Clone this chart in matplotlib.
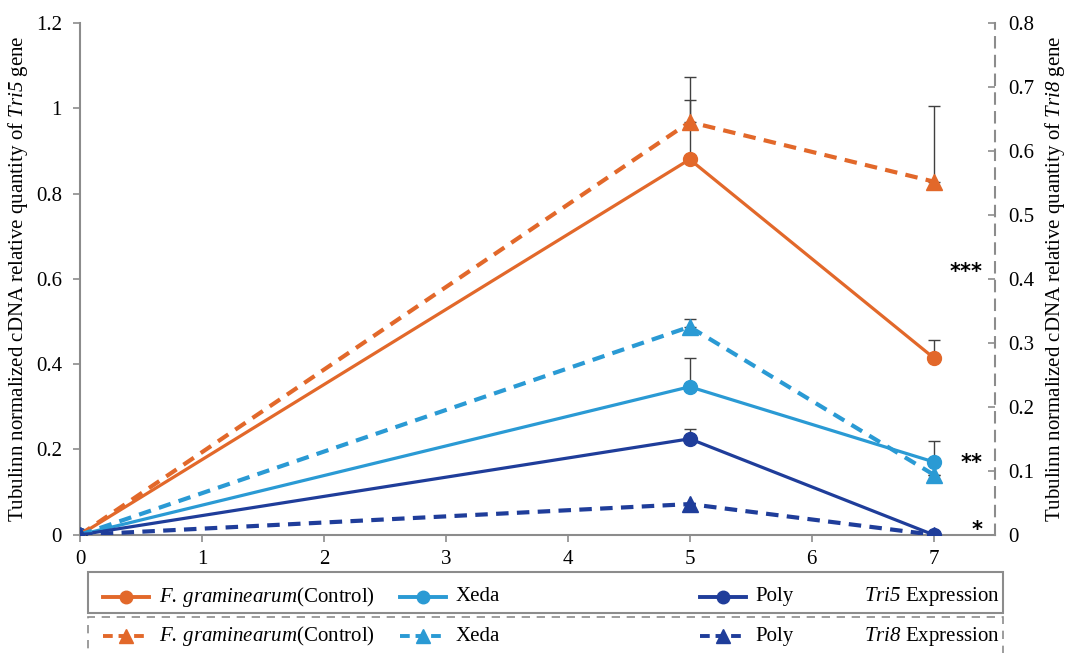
import matplotlib.pyplot as plt
from matplotlib.lines import Line2D
from matplotlib.patches import Rectangle

plt.rcParams['font.family'] = ['Liberation Serif', 'DejaVu Serif']
plt.rcParams['mathtext.fontset'] = 'custom'
plt.rcParams['mathtext.it'] = 'Liberation Serif:italic'
# digits and dots inside math fall back to rm, keep them italic too
plt.rcParams['mathtext.rm'] = 'Liberation Serif:italic'

days = [0, 5, 7]

# Tri5 (left axis)
tri5_control = [0, 0.88, 0.415]
tri5_control_err = [0, 0.14, 0.042]
tri5_xeda = [0, 0.347, 0.171]
tri5_xeda_err = [0, 0.068, 0.05]
tri5_poly = [0, 0.225, 0.0]
tri5_poly_err = [0, 0.023, 0]

# Tri8 (right axis)
tri8_control = [0, 0.645, 0.552]
tri8_control_err = [0, 0.07, 0.118]
tri8_xeda = [0, 0.325, 0.094]
tri8_xeda_err = [0, 0.0125, 0]
tri8_poly = [0, 0.048, 0.0]

stars = ['***', '**', '*']
star_y = [0.616, 0.169, 0.012]

c_ctrl = '#E2682A'
c_xeda = '#2A9AD4'
c_poly = '#1F3D9A'
grey = '#8C8C8C'
fs = 15

fig = plt.figure(figsize=(10.66, 6.53), dpi=100)
ax = fig.add_axes([0.075, 0.181, 0.858, 0.784])
ax2 = ax.twinx()

def upper(err):
    return [[0] * len(err), err]

lw = 2.3
ms = 10
ax.plot(days, tri5_control, color=c_ctrl, lw=lw, marker='o', ms=ms, zorder=3)
ax.plot(days, tri5_xeda, color=c_xeda, lw=lw, marker='o', ms=ms, zorder=3)
ax.plot(days, tri5_poly, color=c_poly, lw=lw, marker='o', ms=ms, zorder=3)
for vals, err in [(tri5_control, tri5_control_err), (tri5_xeda, tri5_xeda_err), (tri5_poly, tri5_poly_err)]:
    ax.errorbar(days, vals, yerr=upper(err), fmt='none', ecolor='#404040', elinewidth=1, capsize=4, zorder=2)

dash = (3, 2)
ax2.plot(days, tri8_control, color=c_ctrl, lw=3, ls=(0, dash), marker='^', ms=ms + 1, zorder=3)
ax2.plot(days, tri8_xeda, color=c_xeda, lw=3, ls=(0, dash), marker='^', ms=ms + 1, zorder=3)
ax2.plot(days, tri8_poly, color=c_poly, lw=3, ls=(0, dash), marker='^', ms=ms + 1, zorder=3)
for vals, err in [(tri8_control, tri8_control_err), (tri8_xeda, tri8_xeda_err)]:
    ax2.errorbar(days, vals, yerr=upper(err), fmt='none', ecolor='#404040', elinewidth=1, capsize=4, zorder=2)

for s, y in zip(stars, star_y):
    ax.text(7.4, y, s, ha='right', va='center', fontsize=15, fontweight='bold', family='DejaVu Sans')

ax.set_xlim(0, 7.5)
ax.set_ylim(0, 1.2)
ax2.set_ylim(0, 0.8)
ax.set_xticks(range(8))
ax.set_yticks([0, 0.2, 0.4, 0.6, 0.8, 1.0, 1.2])
ax.set_yticklabels(['0', '0.2', '0.4', '0.6', '0.8', '1', '1.2'])
ax2.set_yticks([0, 0.1, 0.2, 0.3, 0.4, 0.5, 0.6, 0.7, 0.8])
ax2.set_yticklabels(['0', '0.1', '0.2', '0.3', '0.4', '0.5', '0.6', '0.7', '0.8'])

for a in (ax, ax2):
    a.spines['top'].set_visible(False)
    for sp in a.spines.values():
        sp.set_color(grey)
        sp.set_linewidth(1.5)
ax.spines['right'].set_visible(False)
ax2.spines['left'].set_visible(False)
ax2.spines['bottom'].set_visible(False)
ax2.spines['right'].set_linestyle((0, (5, 4)))
ax.tick_params(axis='both', labelsize=fs, color=grey, width=1.2, length=5)
ax.tick_params(axis='y', pad=8)
ax.tick_params(axis='x', pad=6)
ax2.tick_params(axis='y', direction='in', labelsize=fs, color=grey, width=1.2, length=5, pad=10)

ax.set_ylabel('Tubulinn normalized cDNA relative quantity of $Tri5$ gene', fontsize=fs, labelpad=4)
ax2.set_ylabel('Tubulinn normalized cDNA relative quantity of $Tri8$ gene', fontsize=fs, labelpad=6)

# legend boxes below the plot
fig.add_artist(Rectangle((0.083, 0.061), 0.858, 0.063, transform=fig.transFigure,
                         fill=False, edgecolor=grey, lw=1.5))
fig.add_artist(Rectangle((0.083, -0.02), 0.858, 0.075, transform=fig.transFigure,
                         fill=False, edgecolor=grey, lw=1.2, ls=(0, (5, 4))))

labels = ['$F.\\,graminearum$(Control)', 'Xeda', 'Poly']
colors = [c_ctrl, c_xeda, c_poly]
handle_x = [0.097, 0.375, 0.657]
rows = [(0.086, 'o', '-', '$Tri5$ Expression'), (0.026, '^', (0, (2.5, 1.5)), '$Tri8$ Expression')]
for ry, mk, ls, tag in rows:
    for hx, lab, col in zip(handle_x, labels, colors):
        fig.add_artist(Line2D([hx, hx + 0.043], [ry, ry], transform=fig.transFigure,
                              color=col, lw=2.8, ls=ls))
        fig.add_artist(Line2D([hx + 0.0215], [ry], transform=fig.transFigure,
                              color=col, marker=mk, ms=9 if mk == 'o' else 10, ls='none'))
        fig.text(hx + 0.052, ry, lab, fontsize=fs, va='center', ha='left')
    fig.text(0.938, ry, tag, fontsize=fs, va='center', ha='right')

fig.savefig('out.png', dpi=100)
